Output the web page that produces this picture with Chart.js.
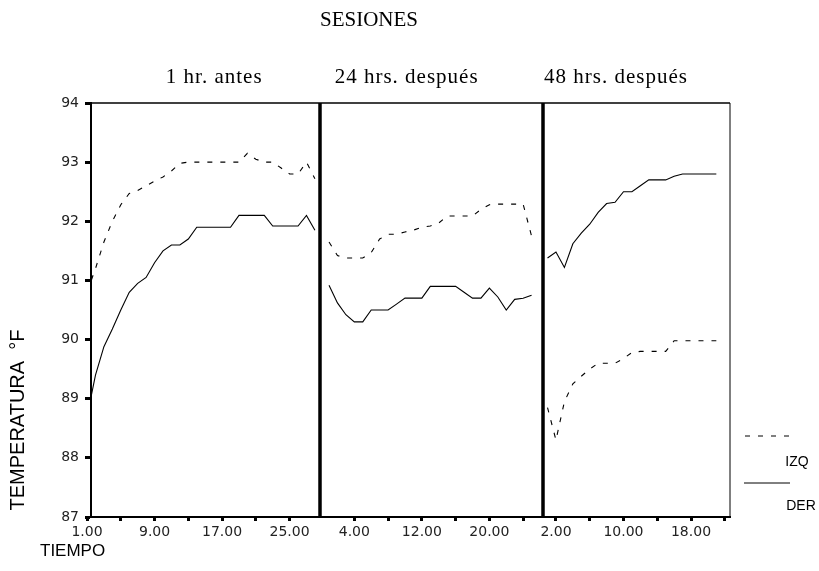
<!DOCTYPE html>
<html>
<head>
<meta charset="utf-8">
<script src="https://cdn.jsdelivr.net/npm/chart.js@4.4.1/dist/chart.umd.min.js"></script>
<style>
  html, body { margin: 0; padding: 0; background: #fff; }
</style>
</head>
<body>
<canvas id="chart-sesiones" width="819" height="571"></canvas>
<script>
/* ── Données ─────────────────────────────────────────────── */
const SESIONES = ['1 hr. antes', '24 hrs. después', '48 hrs. después'];

const TIEMPO_ANTES = [1, 2, 3, 4, 5, 6, 7, 8, 9, 10, 11, 12, 13, 14, 15, 16, 17, 18, 19, 20, 21, 22, 23, 24, 25, 26, 27, 28];
const IZQ_ANTES = [90.8, 91.2, 91.65, 92.0, 92.28, 92.47, 92.52, 92.6, 92.68, 92.75, 92.85, 92.98, 93.0, 93.0,
                   93.0, 93.0, 93.0, 93.0, 93.0, 93.15, 93.05, 93.0, 93.0, 92.9, 92.8, 92.8, 93.0, 92.72];
const DER_ANTES = [88.7, 89.4, 89.88, 90.18, 90.5, 90.8, 90.95, 91.05, 91.3, 91.5, 91.6, 91.6, 91.7, 91.9,
                   91.9, 91.9, 91.9, 91.9, 92.1, 92.1, 92.1, 92.1, 91.92, 91.92, 91.92, 91.92, 92.1, 91.85];

const TIEMPO_24H = [1, 2, 3, 4, 5, 6, 7, 8, 9, 10, 11, 12, 13, 14, 15, 16, 17, 18, 19, 20, 21, 22, 23, 24, 25];
const IZQ_24H = [91.65, 91.42, 91.38, 91.38, 91.38, 91.47, 91.7, 91.78, 91.78, 91.82, 91.85, 91.9, 91.92,
                 91.97, 92.09, 92.09, 92.09, 92.09, 92.2, 92.28, 92.29, 92.29, 92.29, 92.29, 91.75];
const DER_24H = [90.92, 90.62, 90.42, 90.3, 90.3, 90.5, 90.5, 90.5, 90.6, 90.7, 90.7, 90.7, 90.9,
                 90.9, 90.9, 90.9, 90.8, 90.7, 90.7, 90.87, 90.72, 90.5, 90.68, 90.7, 90.75];

const TIEMPO_48H = [1, 2, 3, 4, 5, 6, 7, 8, 9, 10, 11, 12, 13, 14, 15, 16, 17, 18, 19, 20, 21];
const IZQ_48H = [88.85, 88.3, 88.95, 89.25, 89.38, 89.5, 89.6, 89.6, 89.6, 89.68, 89.78, 89.8, 89.8, 89.8,
                 89.8, 89.98, 89.98, 89.98, 89.98, 89.98, 89.98];
const DER_48H = [91.38, 91.48, 91.22, 91.62, 91.8, 91.95, 92.15, 92.3, 92.32, 92.5, 92.5, 92.6, 92.7, 92.7,
                 92.7, 92.76, 92.8, 92.8, 92.8, 92.8, 92.8];

/* Étiquettes et marques de l'axe X, par panneau */
const ETIQUETAS_X = [[1, 9, 17, 25], [4, 12, 20], [2, 10, 18]];
const MARCAS_X    = [[5, 13, 21], [8, 16, 24], [6, 14, 22]];

const Y_MIN = 87, Y_MAX = 94, Y_PASO = 1;

/* ── Mise en page des panneaux (axe X commun) ────────────── */
const DECALAGE = [-1.47, 27.2, 53.09];        // position du temps 0 de chaque panneau
const LIMITES  = [0, 27.13, 53.55, 75.71];    // bords des panneaux
const ANCRE_TITRE = [14.6, 37.4, 62.2];

const COULEUR = '#000';
const POLICE_SANS  = "'Liberation Sans', Arial, sans-serif";
const POLICE_TICKS = "'DejaVu Sans', sans-serif";
const POLICE_SERIF = "'Liberation Serif', 'Times New Roman', serif";

/* Série continue par côté, coupée par null entre panneaux */
function serie(tiempos, valores) {
  const out = [];
  tiempos.forEach((t, p) => {
    t.forEach((ti, i) => out.push({ x: ti + DECALAGE[p], y: valores[p][i] }));
    out.push({ x: LIMITES[p + 1], y: null });
  });
  return out;
}

const TIEMPOS = [TIEMPO_ANTES, TIEMPO_24H, TIEMPO_48H];
const datosIzq = serie(TIEMPOS, [IZQ_ANTES, IZQ_24H, IZQ_48H]);
const datosDer = serie(TIEMPOS, [DER_ANTES, DER_24H, DER_48H]);

/* Graduations X : positions + textes */
const ticksX = [];
ETIQUETAS_X.forEach((lst, p) => {
  lst.forEach(t => ticksX.push({ value: t + DECALAGE[p], label: t.toFixed(2) }));
  MARCAS_X[p].forEach(t => ticksX.push({ value: t + DECALAGE[p], label: '' }));
});
ticksX.sort((a, b) => a.value - b.value);

/* ── Décor : cadre, séparateurs, titres, légende ─────────── */
const decor = {
  id: 'decor',
  afterDraw(chart) {
    const { ctx, chartArea: a, scales: { x } } = chart;
    ctx.save();
    ctx.strokeStyle = COULEUR;

    // cadre haut et droit
    ctx.lineWidth = 1.5;
    ctx.beginPath();
    ctx.moveTo(a.left, a.top); ctx.lineTo(a.right, a.top);
    ctx.stroke();
    ctx.lineWidth = 1;
    ctx.beginPath();
    ctx.moveTo(a.right, a.top); ctx.lineTo(a.right, a.bottom);
    ctx.stroke();

    // séparateurs épais entre sessions
    ctx.lineWidth = 3.5;
    [LIMITES[1], LIMITES[2]].forEach(v => {
      const px = Math.round(x.getPixelForValue(v));
      ctx.beginPath();
      ctx.moveTo(px, a.top); ctx.lineTo(px, a.bottom);
      ctx.stroke();
    });

    ctx.fillStyle = COULEUR;
    ctx.textBaseline = 'middle';
    ctx.textAlign = 'center';

    // titre général
    ctx.font = '21px ' + POLICE_SERIF;
    ctx.fillText('SESIONES', 369, 20);

    // titres de panneau
    ctx.font = '21px ' + POLICE_SERIF;
    ctx.letterSpacing = '1px';
    SESIONES.forEach((s, i) => ctx.fillText(s, x.getPixelForValue(ANCRE_TITRE[i]), 77));
    ctx.letterSpacing = '0px';

    // titre axe Y
    ctx.font = '20px ' + POLICE_SANS;
    ctx.save();
    ctx.translate(18, 420);
    ctx.rotate(-Math.PI / 2);
    ctx.fillText('TEMPERATURA  °F', 0, 0);
    ctx.restore();

    // titre axe X
    ctx.textAlign = 'left';
    ctx.font = '17px ' + POLICE_SANS;
    ctx.fillText('TIEMPO', 40, 551);

    // légende
    ctx.lineWidth = 1;
    ctx.setLineDash([5, 8]);
    ctx.beginPath();
    ctx.moveTo(745, 436); ctx.lineTo(795, 436);
    ctx.stroke();
    ctx.setLineDash([]);
    ctx.beginPath();
    ctx.moveTo(744, 483); ctx.lineTo(790, 483);
    ctx.stroke();
    ctx.textAlign = 'center';
    ctx.font = '14px ' + POLICE_SANS;
    ctx.fillText('IZQ', 797, 462);
    ctx.fillText('DER', 801, 506);

    ctx.restore();
  },
};

new Chart(document.getElementById('chart-sesiones'), {
  type: 'line',
  data: {
    datasets: [
      {
        label: 'IZQ',
        data: datosIzq,
        borderColor: COULEUR,
        borderWidth: 1.1,
        borderDash: [5, 8],
        pointRadius: 0,
        tension: 0,
        spanGaps: false,
      },
      {
        label: 'DER',
        data: datosDer,
        borderColor: COULEUR,
        borderWidth: 1.1,
        pointRadius: 0,
        tension: 0,
        spanGaps: false,
      },
    ],
  },
  options: {
    responsive: false,
    animation: false,
    devicePixelRatio: 1,
    layout: { padding: { top: 103, right: 89, left: 0, bottom: 0 } },
    plugins: {
      legend: { display: false },
      tooltip: { enabled: false },
    },
    scales: {
      x: {
        type: 'linear',
        min: LIMITES[0],
        max: LIMITES[3],
        afterBuildTicks: s => { s.ticks = ticksX.map(t => ({ value: t.value })); },
        afterFit: s => { s.height = 54; },
        grid: {
          drawOnChartArea: false,
          tickLength: 4,
          tickWidth: 3,
          tickColor: COULEUR,
        },
        border: { display: true, color: COULEUR, width: 2 },
        ticks: {
          autoSkip: false,
          maxRotation: 0,
          padding: 3,
          color: '#222',
          font: { family: POLICE_TICKS, size: 14 },
          callback: (v, i) => ticksX[i] ? ticksX[i].label : '',
        },
      },
      y: {
        min: Y_MIN,
        max: Y_MAX,
        afterFit: s => { s.width = 91; },
        grid: {
          drawOnChartArea: false,
          tickLength: 6,
          tickWidth: 3,
          tickColor: COULEUR,
        },
        border: { display: true, color: COULEUR, width: 2 },
        ticks: {
          stepSize: Y_PASO,
          padding: 6,
          color: '#222',
          font: { family: POLICE_TICKS, size: 14 },
        },
      },
    },
  },
  plugins: [decor],
});
</script>
</body>
</html>
